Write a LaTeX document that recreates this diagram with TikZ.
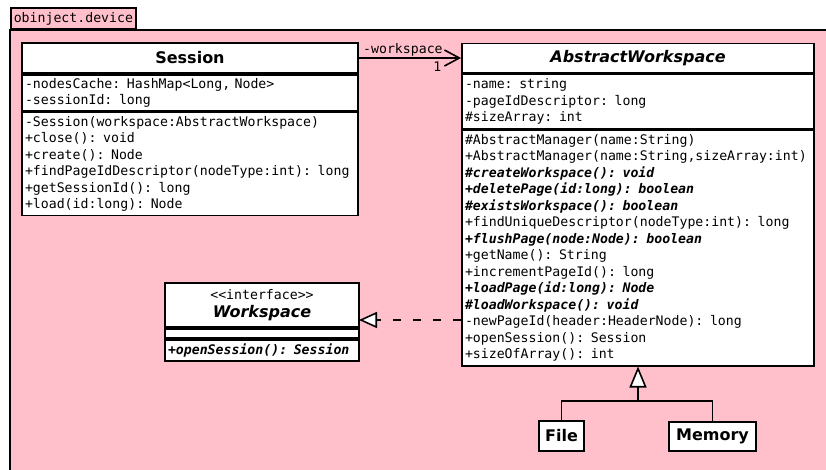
\documentclass[tikz,border=0pt]{standalone}
\usepackage{fontspec}
\setmainfont{DejaVu Sans}
\setmonofont{DejaVu Sans Mono}
\usepackage{tikz}
\usetikzlibrary{arrows.meta}
\tikzset{>=Stealth}
\usetikzlibrary{positioning}
\definecolor{pkgpink}{RGB}{255,192,203}
\newcommand{\absop}[1]{\textbf{\textit{#1}}}
\tikzset{
    classname/.style={draw, fill=white, line width=1.8pt, inner sep=0pt,
        font=\fontsize{16}{18}\selectfont\bfseries},
    members/.style={draw, fill=white, line width=1.8pt, inner xsep=3pt, inner ysep=0pt,
        align=left, font=\fontsize{13.2}{16.5}\selectfont\ttfamily},
    pkgtab/.style={draw, fill=pkgpink, line width=1.8pt, inner sep=0pt,
        font=\fontsize{13.2}{16}\selectfont\ttfamily},
    rolelabel/.style={inner sep=1pt, font=\fontsize{13.2}{16}\selectfont\ttfamily},
    assoc/.style={line width=1.6pt, -{Straight Barb[length=15pt, width=16pt]}},
    realize/.style={line width=1.6pt, dash pattern=on 8pt off 12pt,
        -{Triangle[length=18pt, width=16pt, fill=white]}},
    inherit/.style={line width=1.6pt, -{Triangle[length=21pt, width=17pt, fill=white]}},
    tree/.style={line width=1.6pt}
}
\begin{document}
\begin{tikzpicture}[x=1pt, y=-1pt]
    \useasboundingbox (0,0) rectangle (826,470);
    \fill[pkgpink] (10,30) rectangle (826,470);
    \node[pkgtab, anchor=south west, minimum width=125pt, minimum height=21pt] (pkg) at (10,30) {obinject.device};
    \draw[line width=1.8pt] (826,30) -- (10,30) -- (10,470);

    \node[classname, minimum width=336pt, minimum height=30pt] (sess) at (190,58) {Session};
    \node[members, text width=330pt, minimum height=36pt, below=0pt of sess] (sessattr)
        {-nodesCache: HashMap<Long, Node>\\-sessionId: long};
    \node[members, text width=330pt, minimum height=103pt, below=0pt of sessattr] (sessops)
        {-Session(workspace:AbstractWorkspace)\\
         +close(): void\\
         +create(): Node\\
         +findPageIdDescriptor(nodeType:int): long\\
         +getSessionId(): long\\
         +load(id:long): Node};

    \node[classname, minimum width=352pt, minimum height=29pt] (aw) at (638,58) {\textit{AbstractWorkspace}};
    \node[members, text width=346pt, minimum height=54.5pt, below=0pt of aw] (awattr)
        {-name: string\\-pageIdDescriptor: long\\\#sizeArray: int};
    \node[members, text width=346pt, minimum height=235pt, below=0pt of awattr] (awops)
        {\#AbstractManager(name:String)\\
         +AbstractManager(name:String,sizeArray:int)\\
         \absop{\#createWorkspace(): void}\\
         \absop{+deletePage(id:long): boolean}\\
         \absop{\#existsWorkspace(): boolean}\\
         +findUniqueDescriptor(nodeType:int): long\\
         \absop{+flushPage(node:Node): boolean}\\
         +getName(): String\\
         +incrementPageId(): long\\
         \absop{+loadPage(id:long): Node}\\
         \absop{\#loadWorkspace(): void}\\
         -newPageId(header:HeaderNode): long\\
         +openSession(): Session\\
         +sizeOfArray(): int};

    \node[classname, minimum width=194pt, minimum height=44pt, align=center] (ws) at (262,305)
        {{\mdseries\ttfamily\fontsize{13.2}{16}\selectfont <{}<interface>{}>}\\\textit{Workspace}};
    \node[members, text width=188pt, minimum height=9pt, below=0pt of ws] (wsattr) {};
    \node[members, text width=188pt, minimum height=21pt, below=0pt of wsattr] (wsops)
        {\absop{+openSession(): Session}};

    \node[classname, minimum width=45pt, minimum height=30pt] (file) at (561.5,436) {File};
    \node[classname, minimum width=87pt, minimum height=29pt] (mem) at (712.5,436.5) {Memory};

    \coordinate (wsport) at (359,320);
    \coordinate (fork) at (638,401);

    \draw[assoc] (sess.east) -- (aw.west)
        node[rolelabel, above right, pos=0, xshift=2.5pt] {-workspace}
        node[rolelabel, below left, pos=1, xshift=-18pt, yshift=-2pt] {1};
    \draw[realize] (wsport -| awops.west) -- (wsport);
    \draw[tree] (file.north) |- (fork) -| (mem.north);
    \draw[inherit] (fork) -- (awops.south);
\end{tikzpicture}
\end{document}
